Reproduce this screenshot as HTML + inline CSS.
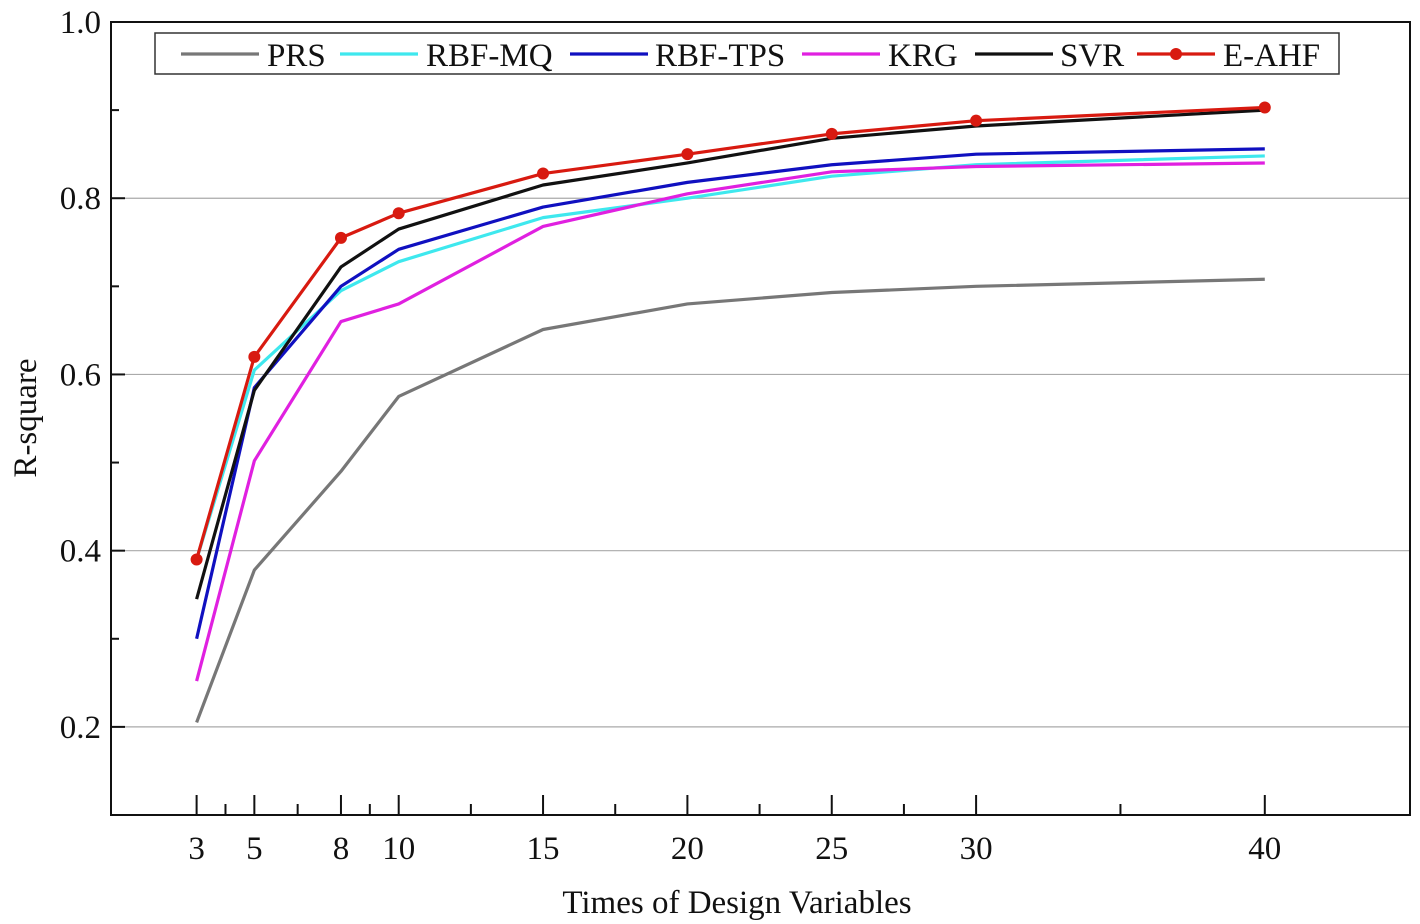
<!DOCTYPE html>
<html><head><meta charset="utf-8"><style>
html,body{margin:0;padding:0;background:#fff;}
svg{display:block;font-family:"Liberation Serif",serif;}
</style></head><body>
<svg id="c" width="1420" height="924"></svg>
<script>
const xCats=[3,5,8,10,15,20,25,30,40];
const xMinor=[4,6.5,9,12.5,17.5,22.5,27.5,35];
const yTicks=[0.2,0.4,0.6,0.8,1.0];
const yTickLabels=["0.2","0.4","0.6","0.8","1.0"];
const yMinor=[0.3,0.5,0.7,0.9];
const prs=[0.205,0.378,0.49,0.575,0.651,0.68,0.693,0.70,0.708];
const rbfmq=[0.39,0.605,0.695,0.728,0.778,0.80,0.825,0.838,0.848];
const rbftps=[0.30,0.585,0.70,0.742,0.79,0.818,0.838,0.85,0.856];
const krg=[0.252,0.502,0.66,0.68,0.768,0.805,0.83,0.836,0.84];
const svr=[0.345,0.582,0.722,0.765,0.815,0.84,0.868,0.882,0.90];
const eahf=[0.39,0.62,0.755,0.783,0.828,0.85,0.873,0.888,0.903];
const seriesNames=["PRS","RBF-MQ","RBF-TPS","KRG","SVR","E-AHF"];
const seriesData=[prs,rbfmq,rbftps,krg,svr,eahf];
const colors=["#777","#3ee8ee","#1010c0","#e020e0","#111","#d81a10"];
const L=111,R=1410,T=22,B=815;
const X=v=>110+v*28.87;
const Y=v=>B-(v-0.1)/0.9*(B-T);
const svg=document.getElementById('c');
const NS="http://www.w3.org/2000/svg";
function mk(t,a,p){const e=document.createElementNS(NS,t);for(const k in a)e.setAttribute(k,a[k]);(p||svg).appendChild(e);return e;}
yTicks.forEach(v=>{if(v<1){const g=mk('line',{x1:L,x2:R,y1:Y(v),y2:Y(v),stroke:'#aaa','stroke-width':1.2});

}});
const fr=mk('rect',{x:L,y:T,width:R-L,height:B-T,fill:'none',stroke:'#111','stroke-width':2});


yTicks.forEach((v,i)=>{mk('line',{x1:L,x2:L+14,y1:Y(v),y2:Y(v),stroke:'#111','stroke-width':2});
const t=mk('text',{x:L-10,y:Y(v)+11,'text-anchor':'end','font-size':33,fill:'#111'});t.textContent=yTickLabels[i];

});
yMinor.forEach(v=>mk('line',{x1:L,x2:L+8,y1:Y(v),y2:Y(v),stroke:'#111','stroke-width':2}));
xCats.forEach(v=>{mk('line',{x1:X(v),x2:X(v),y1:B,y2:B-20,stroke:'#111','stroke-width':2});
const t=mk('text',{x:X(v),y:859,'text-anchor':'middle','font-size':33,fill:'#111'});t.textContent=v;

});
xMinor.forEach(v=>mk('line',{x1:X(v),x2:X(v),y1:B,y2:B-11,stroke:'#111','stroke-width':2}));
const xt=mk('text',{x:737,y:913,'text-anchor':'middle','font-size':33,fill:'#111'});xt.textContent='Times of Design Variables';


const yt=mk('text',{x:0,y:0,'text-anchor':'middle','font-size':33,fill:'#111',transform:'translate(36,418) rotate(-90)'});yt.textContent='R-square';


seriesData.forEach((d,i)=>{
const p=mk('polyline',{points:d.map((v,j)=>X(xCats[j])+','+Y(v)).join(' '),fill:'none',stroke:colors[i],'stroke-width':3.2,'stroke-linejoin':'round'});


if(i===5)d.forEach((v,j)=>{const c=mk('circle',{cx:X(xCats[j]),cy:Y(v),r:6,fill:colors[5]});

});
});
const lg=mk('g',{});


mk('rect',{x:155,y:33,width:1184,height:41,fill:'#fff',stroke:'#333','stroke-width':1.5},lg);
const lx=[181,340,570,802,975,1137], tx=[267,426,655,888,1060,1223];
seriesNames.forEach((n,i)=>{
mk('line',{x1:lx[i],x2:lx[i]+78,y1:54,y2:54,stroke:colors[i],'stroke-width':3.2},lg);
if(i===5)mk('circle',{cx:lx[i]+39,cy:54,r:6,fill:colors[5]},lg);
const t=mk('text',{x:tx[i],y:66,'font-size':33,fill:'#111'},lg);t.textContent=n;


});
</script>
</body></html>
